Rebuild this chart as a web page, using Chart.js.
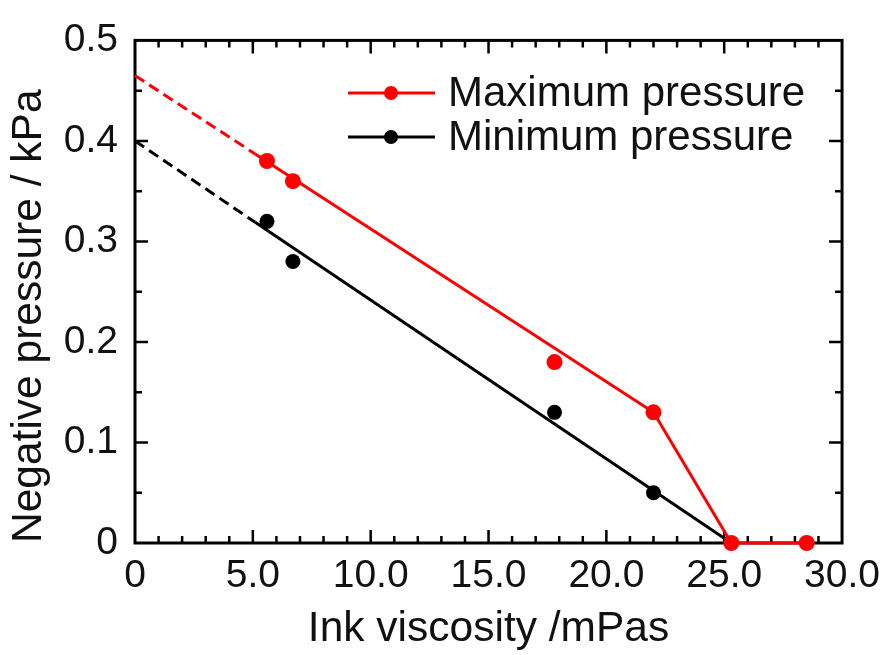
<!DOCTYPE html>
<html>
<head>
<meta charset="utf-8">
<script src="https://cdn.jsdelivr.net/npm/chart.js@4/dist/chart.umd.min.js"></script>
<style>
html,body{margin:0;padding:0;background:#fff;}
#wrap{width:890px;height:655px;}
</style>
</head>
<body>
<div id="wrap"><canvas id="c" width="890" height="655"></canvas></div>
<script>
// ---- Data ----
const maxViscosity = [5.6, 6.7, 17.8, 22.0, 25.3, 28.5];
const maxPressure  = [0.38, 0.36, 0.18, 0.13, 0, 0];
const minViscosity = [5.6, 6.7, 17.8, 22.0];
const minPressure  = [0.32, 0.28, 0.13, 0.05];
// fitted / guide lines
const maxFitDashX  = [0, 5.1];
const maxFitDashY  = [0.465, 0.387];
const maxFitSolidX = [5.1, 22.0, 25.3, 28.5];
const maxFitSolidY = [0.387, 0.13, 0, 0];
const minFitDashX  = [0, 5.1];
const minFitDashY  = [0.40, 0.319];
const minFitSolidX = [5.1, 25.3];
const minFitSolidY = [0.319, 0];
const seriesNames = ['Maximum pressure', 'Minimum pressure'];
const xTitle = 'Ink viscosity /mPas';
const yTitle = 'Negative pressure / kPa';

const pts = (xs, ys) => xs.map((x, i) => ({x: x, y: ys[i]}));
const RED = '#ff0000', BLACK = '#000000';
const FONT = "'Liberation Sans', Arial, sans-serif";

const fmt = v => (Math.abs(v) < 1e-9 ? '0' : v.toFixed(1));

// frame + inward ticks (major and minor) on all four sides
const framePlugin = {
  id: 'frame',
  beforeDatasetsDraw(chart) {
    const {ctx, chartArea: a, scales} = chart;
    const xs = scales.x, ys = scales.y;
    ctx.save();
    ctx.strokeStyle = '#000';
    ctx.lineWidth = 3;
    ctx.strokeRect(a.left, a.top, a.right - a.left, a.bottom - a.top);
    ctx.lineWidth = 2.5;
    ctx.beginPath();
    for (let v = 1; v < 30; v += 1) {
      const px = xs.getPixelForValue(v);
      const len = (v % 5 === 0) ? 13 : 7;
      ctx.moveTo(px, a.bottom); ctx.lineTo(px, a.bottom - len);
      ctx.moveTo(px, a.top); ctx.lineTo(px, a.top + len);
    }
    for (let k = 1; k < 10; k++) {
      const py = ys.getPixelForValue(k * 0.05);
      const len = (k % 2 === 0) ? 13 : 7;
      ctx.moveTo(a.left, py); ctx.lineTo(a.left + len, py);
      ctx.moveTo(a.right, py); ctx.lineTo(a.right - len, py);
    }
    ctx.stroke();
    ctx.restore();
  }
};

// legend inside the plot: line with marker + label
const legendPlugin = {
  id: 'innerLegend',
  afterDraw(chart) {
    const {ctx} = chart;
    const items = [
      {label: chart.data.datasets[0].label, color: RED, y: 93},
      {label: chart.data.datasets[1].label, color: BLACK, y: 137}
    ];
    ctx.save();
    items.forEach(it => {
      ctx.strokeStyle = it.color;
      ctx.lineWidth = 3;
      ctx.beginPath();
      ctx.moveTo(348, it.y); ctx.lineTo(435, it.y);
      ctx.stroke();
      ctx.fillStyle = it.color;
      ctx.beginPath();
      ctx.arc(391, it.y, 7, 0, Math.PI * 2);
      ctx.fill();
      ctx.fillStyle = '#111';
      ctx.font = '42px ' + FONT;
      ctx.textBaseline = 'middle';
      ctx.textAlign = 'left';
      ctx.fillText(it.label, 448, it.y + 1);
    });
    ctx.restore();
  }
};

new Chart(document.getElementById('c'), {
  type: 'scatter',
  data: {
    datasets: [
      {label: seriesNames[0], data: pts(maxViscosity, maxPressure), showLine: false,
       pointRadius: 8, pointHoverRadius: 8, backgroundColor: RED, borderColor: RED, borderWidth: 0, clip: false, order: 0},
      {label: seriesNames[1], data: pts(minViscosity, minPressure), showLine: false,
       pointRadius: 7.5, pointHoverRadius: 7.5, backgroundColor: BLACK, borderColor: BLACK, borderWidth: 0, clip: false, order: 0},
      {label: 'max fit dashed', data: pts(maxFitDashX, maxFitDashY), showLine: true, pointRadius: 0,
       borderColor: RED, borderWidth: 3, borderDash: [11, 6], clip: false, order: 1},
      {label: 'max fit', data: pts(maxFitSolidX, maxFitSolidY), showLine: true, pointRadius: 0,
       borderColor: RED, borderWidth: 3, clip: false, order: 1},
      {label: 'min fit dashed', data: pts(minFitDashX, minFitDashY), showLine: true, pointRadius: 0,
       borderColor: BLACK, borderWidth: 3, borderDash: [11, 6], clip: false, order: 1},
      {label: 'min fit', data: pts(minFitSolidX, minFitSolidY), showLine: true, pointRadius: 0,
       borderColor: BLACK, borderWidth: 3, clip: false, order: 1}
    ]
  },
  options: {
    responsive: false,
    animation: false,
    devicePixelRatio: 1,
    layout: {padding: {top: 40, right: 43, left: 0, bottom: 0}},
    plugins: {legend: {display: false}, tooltip: {enabled: false}},
    scales: {
      x: {
        type: 'linear', min: 0, max: 30,
        border: {display: false},
        grid: {display: false, drawTicks: false},
        ticks: {stepSize: 5, callback: v => fmt(v), color: '#111', padding: 10,
                font: {family: FONT, size: 39}, maxRotation: 0, autoSkip: false},
        title: {display: true, text: xTitle, color: '#111', font: {family: FONT, size: 42.5}, padding: {top: 0, bottom: 0}},
        afterFit: s => { s.height = 112; }
      },
      y: {
        type: 'linear', min: 0, max: 0.5,
        border: {display: false},
        grid: {display: false, drawTicks: false},
        ticks: {stepSize: 0.1, callback: v => fmt(v), color: '#111', padding: 17,
                font: {family: FONT, size: 39}, autoSkip: false},
        title: {display: true, text: yTitle, align: 'start', color: '#111', font: {family: FONT, size: 42.5}, padding: {top: 4, bottom: 0}},
        afterFit: s => { s.width = 135; }
      }
    }
  },
  plugins: [framePlugin, legendPlugin]
});
</script>
</body>
</html>
